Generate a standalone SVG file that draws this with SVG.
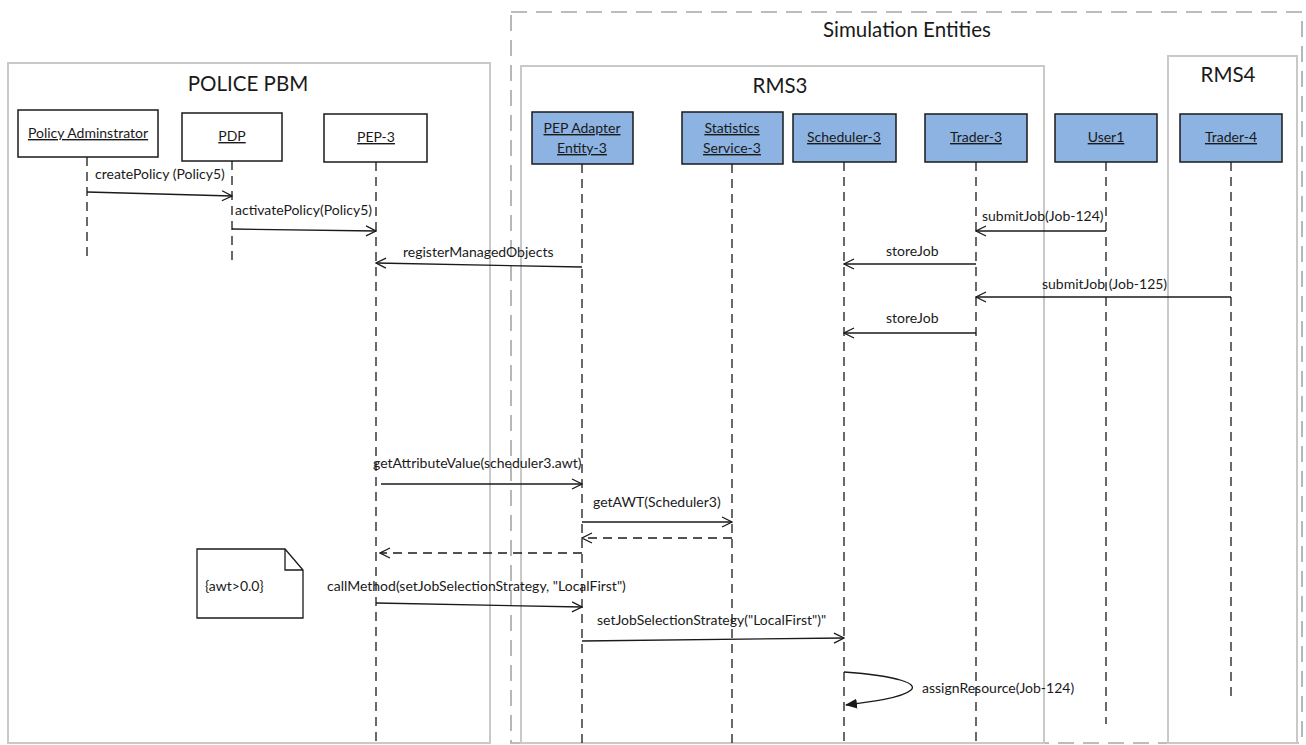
<svg xmlns="http://www.w3.org/2000/svg" width="1306" height="745" viewBox="0 0 1306 745">
  <style>
    .frame { fill: none; stroke: #c9c9c9; stroke-width: 2; }
    .frame-dash { fill: none; stroke: #a6a6a6; stroke-width: 1.6; stroke-dasharray: 16 9; }
    .title { font-family: Lato, "Liberation Sans", sans-serif; font-size: 20.5px; fill: #1a1a1a; text-anchor: middle; }
    .obj { fill: #ffffff; stroke: #1a1a1a; stroke-width: 1.5; }
    .obj-blue { fill: #8db3e2; stroke: #1a1a1a; stroke-width: 1.5; }
    .name { font-family: Lato, "Liberation Sans", sans-serif; font-size: 14px; fill: #1a1a1a; text-anchor: middle; text-decoration: underline; }
    .life { stroke: #1a1a1a; stroke-width: 1.3; stroke-dasharray: 9 6; fill: none; }
    .msg { stroke: #1a1a1a; stroke-width: 1.3; fill: none; marker-end: url(#open); }
    .ret { stroke: #1a1a1a; stroke-width: 1.3; fill: none; stroke-dasharray: 9 6; marker-end: url(#open); }
    .self { stroke: #1a1a1a; stroke-width: 1.3; fill: none; marker-end: url(#filled); }
    .label { font-family: Lato, "Liberation Sans", sans-serif; font-size: 14px; fill: #1a1a1a; }
    .note { fill: #ffffff; stroke: #1a1a1a; stroke-width: 1.3; }
  </style>
  <defs>
    <marker id="open" viewBox="0 0 12 12" refX="11" refY="6" markerWidth="12" markerHeight="12" markerUnits="userSpaceOnUse" orient="auto">
      <path d="M1,1 L11,6 L1,11" fill="none" stroke="#1a1a1a" stroke-width="1.3"/>
    </marker>
    <marker id="filled" viewBox="0 0 12 12" refX="11" refY="6" markerWidth="12" markerHeight="12" markerUnits="userSpaceOnUse" orient="auto">
      <path d="M0,1 L12,6 L0,11 Z" fill="#1a1a1a"/>
    </marker>
  </defs>

  <rect width="1306" height="745" fill="#ffffff"/>

  <!-- frames -->
  <g id="frames">
    <rect class="frame-dash" x="511" y="12" width="791" height="731"/>
    <text class="title" x="907" y="37">Simulation Entities</text>
    <rect class="frame" x="8" y="63" width="482" height="680"/>
    <text class="title" x="248" y="91">POLICE PBM</text>
    <rect class="frame" x="521" y="66" width="523" height="677"/>
    <text class="title" x="780" y="93">RMS3</text>
    <rect class="frame" x="1168" y="56" width="129" height="687"/>
    <text class="title" x="1228" y="82">RMS4</text>
  </g>

  <!-- lifelines -->
  <g id="lifelines">
    <line class="life" x1="87" y1="157" x2="87" y2="262"/>
    <line class="life" x1="232" y1="161" x2="232" y2="262"/>
    <line class="life" x1="376" y1="162" x2="376" y2="745"/>
    <line class="life" x1="582" y1="164" x2="582" y2="745"/>
    <line class="life" x1="732" y1="164" x2="732" y2="745"/>
    <line class="life" x1="844" y1="162" x2="844" y2="745"/>
    <line class="life" x1="976" y1="162" x2="976" y2="745"/>
    <line class="life" x1="1106" y1="162" x2="1106" y2="724"/>
    <line class="life" x1="1231" y1="162" x2="1231" y2="698"/>
  </g>

  <!-- objects -->
  <g id="policy-adminstrator">
    <rect class="obj" x="18" y="110" width="140" height="47"/>
    <text class="name" x="88" y="138">Policy Adminstrator</text>
  </g>
  <g id="pdp">
    <rect class="obj" x="182" y="113" width="100" height="48"/>
    <text class="name" x="232" y="141">PDP</text>
  </g>
  <g id="pep-3">
    <rect class="obj" x="324" y="114" width="103" height="48"/>
    <text class="name" x="376" y="142">PEP-3</text>
  </g>
  <g id="pep-adapter-entity-3">
    <rect class="obj-blue" x="532" y="112" width="101" height="52"/>
    <text class="name" x="582" y="133">PEP Adapter</text>
    <text class="name" x="582" y="153">Entity-3</text>
  </g>
  <g id="statistics-service-3">
    <rect class="obj-blue" x="682" y="112" width="101" height="52"/>
    <text class="name" x="732" y="133">Statistics</text>
    <text class="name" x="732" y="153">Service-3</text>
  </g>
  <g id="scheduler-3">
    <rect class="obj-blue" x="793" y="114" width="103" height="48"/>
    <text class="name" x="844" y="142">Scheduler-3</text>
  </g>
  <g id="trader-3">
    <rect class="obj-blue" x="925" y="114" width="102" height="48"/>
    <text class="name" x="976" y="142">Trader-3</text>
  </g>
  <g id="user1">
    <rect class="obj-blue" x="1055" y="114" width="102" height="48"/>
    <text class="name" x="1106" y="142">User1</text>
  </g>
  <g id="trader-4">
    <rect class="obj-blue" x="1180" y="114" width="102" height="48"/>
    <text class="name" x="1231" y="142">Trader-4</text>
  </g>

  <!-- constraint note -->
  <g id="note-awt">
    <path class="note" d="M197,549 L285,549 L303,570 L303,618 L197,618 Z"/>
    <path d="M285,549 L285,570 L303,570" fill="none" stroke="#1a1a1a" stroke-width="1.3"/>
    <text class="label" x="205" y="591">{awt&gt;0.0}</text>
  </g>

  <!-- messages -->
  <g id="connectors">
    <line class="msg" x1="87" y1="192" x2="232" y2="196"/>
    <line class="msg" x1="232" y1="229" x2="376" y2="231"/>
    <line class="msg" x1="582" y1="267" x2="376" y2="263"/>
    <line class="msg" x1="1106" y1="231" x2="976" y2="231"/>
    <line class="msg" x1="976" y1="264" x2="844" y2="264"/>
    <line class="msg" x1="1231" y1="297" x2="976" y2="297"/>
    <line class="msg" x1="976" y1="333" x2="844" y2="333"/>
    <line class="msg" x1="381" y1="484" x2="582" y2="484"/>
    <line class="msg" x1="582" y1="522" x2="732" y2="522"/>
    <line class="ret" x1="732" y1="538" x2="582" y2="538"/>
    <line class="ret" x1="582" y1="553" x2="380" y2="553"/>
    <line class="msg" x1="376" y1="603" x2="582" y2="607"/>
    <line class="msg" x1="582" y1="641" x2="844" y2="638"/>
    <path class="self" d="M844,672 C900,676 918,684 911,690 C902,698 870,702 846,705"/>
  </g>

  <!-- message labels -->
  <g id="labels">
    <text class="label" x="95" y="179">createPolicy (Policy5)</text>
    <text class="label" x="235" y="215">activatePolicy(Policy5)</text>
    <text class="label" x="403" y="257">registerManagedObjects</text>
    <text class="label" x="982" y="221">submitJob(Job-124)</text>
    <text class="label" x="886" y="256">storeJob</text>
    <text class="label" x="1042" y="289">submitJob (Job-125)</text>
    <text class="label" x="886" y="323">storeJob</text>
    <text class="label" x="373" y="468">getAttributeValue(scheduler3.awt)</text>
    <text class="label" x="593" y="507">getAWT(Scheduler3)</text>
    <text class="label" x="327" y="591">callMethod(setJobSelectionStrategy, "LocalFirst")</text>
    <text class="label" x="597" y="625">setJobSelectionStrategy("LocalFirst")"</text>
    <text class="label" x="922" y="693">assignResource(Job-124)</text>
  </g>
</svg>
